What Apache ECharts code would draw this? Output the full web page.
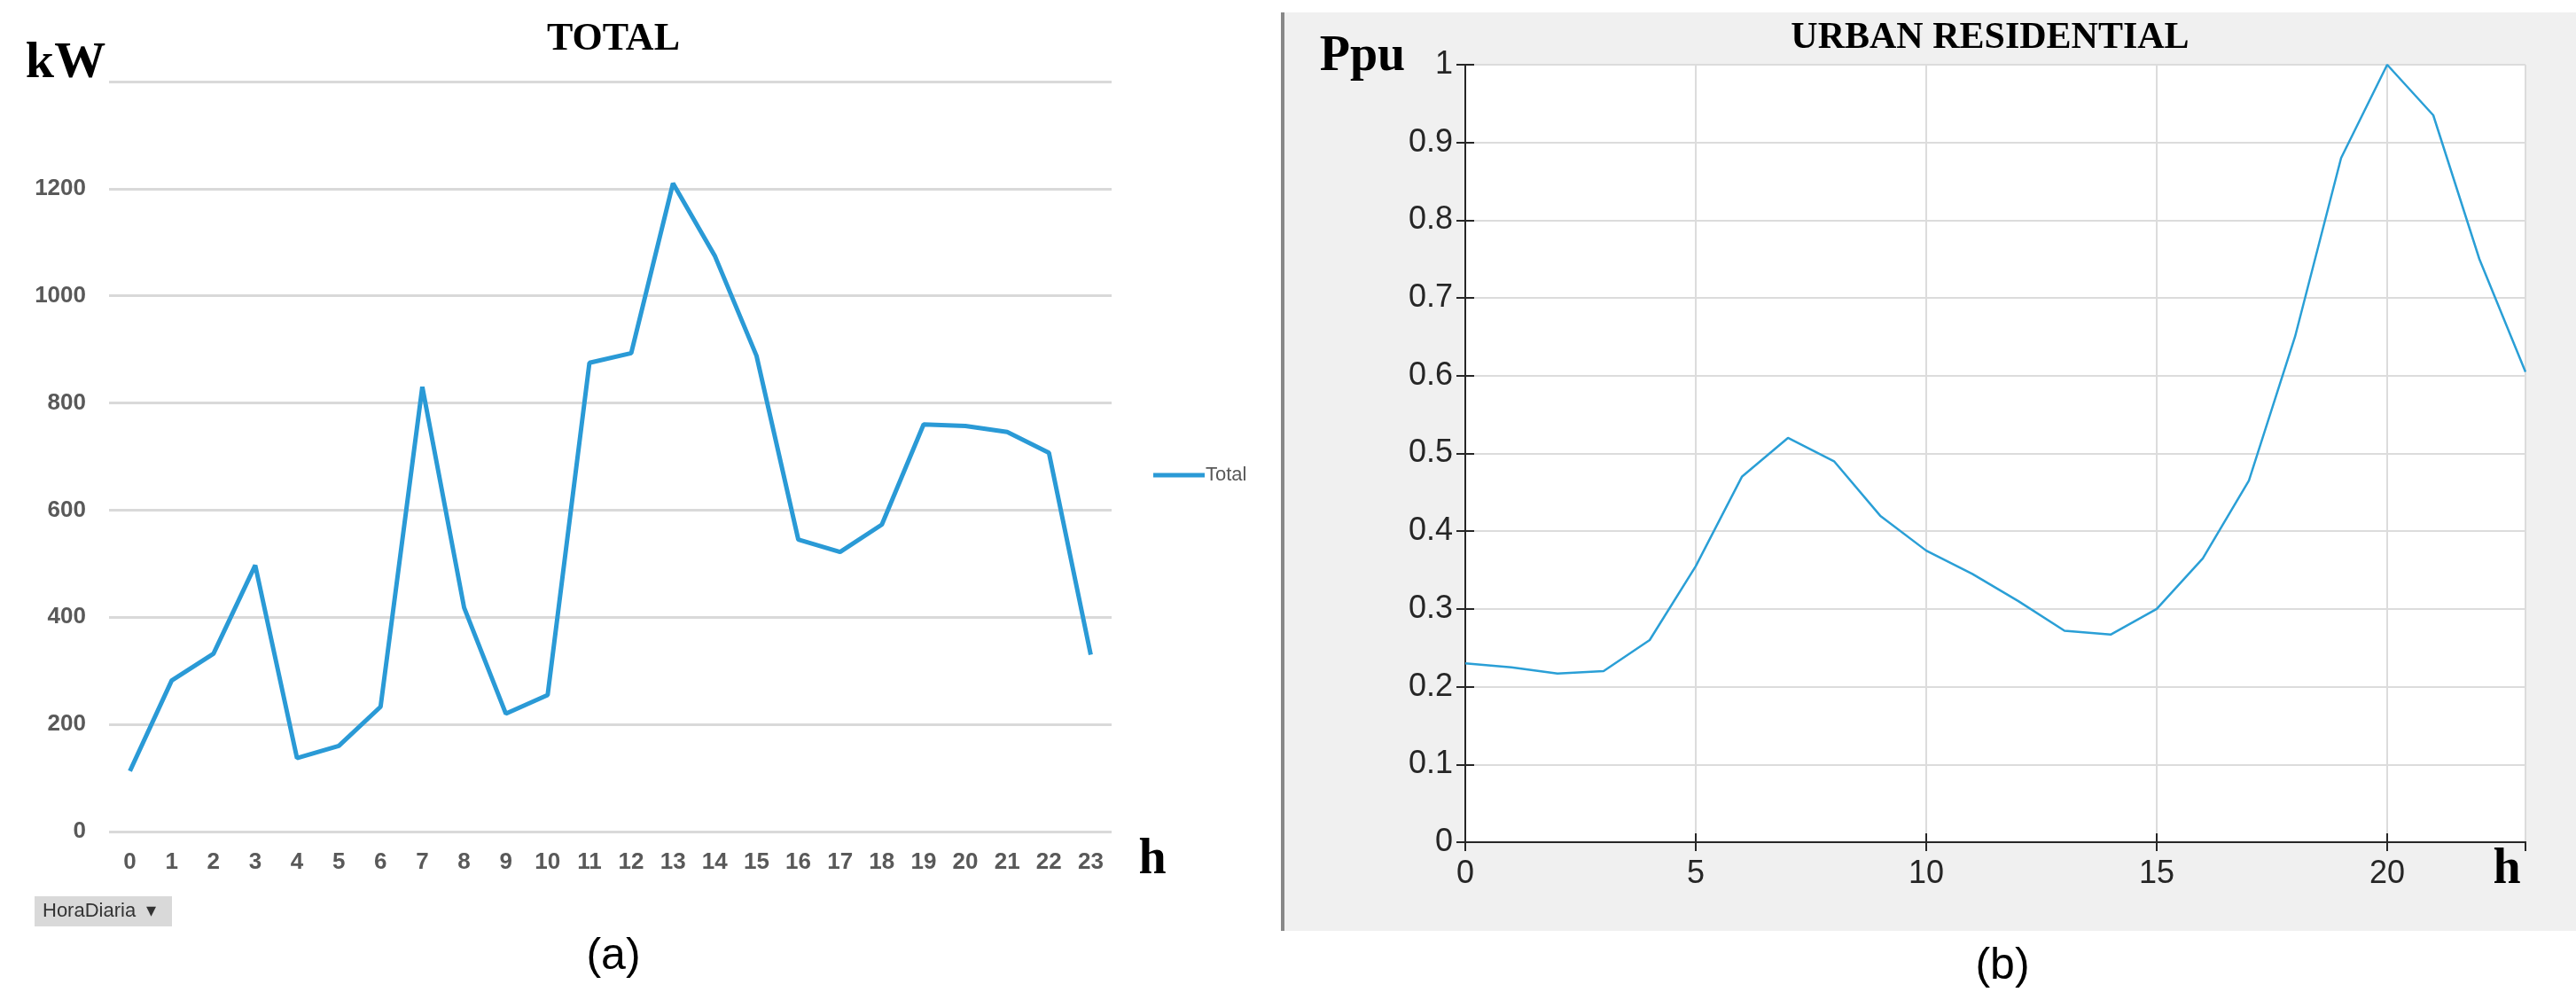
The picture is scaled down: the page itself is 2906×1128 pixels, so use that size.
<!DOCTYPE html>
<html>
<head>
<meta charset="utf-8">
<script src="https://cdn.jsdelivr.net/npm/echarts@6/dist/echarts.min.js"></script>
<style>
  html, body { margin: 0; padding: 0; background: #fff; }
  #chart { width: 2906px; height: 1128px; }
</style>
</head>
<body>
<div id="chart"></div>
<script>
// Data
var hours = ['0','1','2','3','4','5','6','7','8','9','10','11','12','13','14','15','16','17','18','19','20','21','22','23'];
var totalKw = [113, 282, 332, 497, 137, 160, 233, 830, 418, 220, 255, 875, 893, 1210, 1075, 888, 545, 522, 573, 760, 757, 746, 707, 330];
var urbanHours = [0,1,2,3,4,5,6,7,8,9,10,11,12,13,14,15,16,17,18,19,20,21,22,23];
var urbanPpu = [0.23, 0.225, 0.217, 0.22, 0.26, 0.355, 0.47, 0.52, 0.49, 0.42, 0.375, 0.345, 0.31, 0.272, 0.267, 0.3, 0.365, 0.465, 0.65, 0.88, 1.0, 0.935, 0.75, 0.605];

var chart = echarts.init(document.getElementById('chart'));

var serif = '"Liberation Serif", "DejaVu Serif", serif';
var sans = '"Liberation Sans", Arial, sans-serif';

chart.setOption({
    animation: false,
    backgroundColor: '#fff',
    graphic: [
        // gray panel behind right chart
        { type: 'rect', shape: { x: 1447, y: 14, width: 1459, height: 1036 }, style: { fill: '#f0f0f0' }, z: -10 },
        { type: 'rect', shape: { x: 1653, y: 73, width: 1196, height: 877 }, style: { fill: '#fff' }, z: -9 },
        { type: 'line', shape: { x1: 1447, y1: 14, x2: 1447, y2: 1050 }, style: { stroke: '#888', lineWidth: 4 } },
        // titles and labels
        { type: 'text', x: 692, y: 45, style: { text: 'TOTAL', font: 'bold 44px ' + serif, fill: '#000', align: 'center', verticalAlign: 'middle' } },
        { type: 'text', x: 74, y: 72, style: { text: 'kW', font: 'bold 58px ' + serif, fill: '#000', align: 'center', verticalAlign: 'middle' } },
        { type: 'text', x: 1300, y: 971, style: { text: 'h', font: 'bold 56px ' + serif, fill: '#000', align: 'center', verticalAlign: 'middle' } },
        { type: 'rect', shape: { x: 39, y: 1011, width: 155, height: 34 }, style: { fill: '#d9d9d9' } },
        { type: 'text', x: 48, y: 1028, style: { text: 'HoraDiaria  \u25BE', font: '22px ' + sans, fill: '#333', verticalAlign: 'middle' } },
        { type: 'text', x: 692, y: 1079, style: { text: '(a)', font: '50px ' + sans, fill: '#000', align: 'center', verticalAlign: 'middle' } },
        { type: 'text', x: 2245, y: 43, style: { text: 'URBAN RESIDENTIAL', font: 'bold 42px ' + serif, fill: '#000', align: 'center', verticalAlign: 'middle' } },
        { type: 'text', x: 1537, y: 65, style: { text: 'Ppu', font: 'bold 56px ' + serif, fill: '#000', align: 'center', verticalAlign: 'middle' } },
        { type: 'text', x: 2828, y: 982, style: { text: 'h', font: 'bold 56px ' + serif, fill: '#000', align: 'center', verticalAlign: 'middle' } },
        { type: 'text', x: 2259, y: 1090, style: { text: '(b)', font: '50px ' + sans, fill: '#000', align: 'center', verticalAlign: 'middle' } }
    ],
    legend: {
        data: ['Total'],
        left: 1296,
        top: 520,
        itemWidth: 58,
        itemHeight: 5,
        itemGap: 4,
        icon: 'rect',
        textStyle: { fontFamily: sans, fontSize: 22, color: '#595959', padding: [0, 0, 0, -4] }
    },
    grid: [
        { left: 123, top: 92, width: 1131, height: 846 },
        { left: 1653, top: 73, width: 1196, height: 877 },
        { left: 1653, top: 73, width: 1196, height: 877 }
    ],
    xAxis: [
        {
            gridIndex: 0, type: 'category', data: hours, boundaryGap: true,
            axisLine: { show: false }, axisTick: { show: false },
            axisLabel: { color: '#595959', fontFamily: sans, fontWeight: 'bold', fontSize: 26, margin: 22 }
        },
        {
            gridIndex: 1, type: 'value', min: 0, max: 23, interval: 5,
            axisLine: { lineStyle: { color: '#262626', width: 2 } },
            axisTick: { inside: true, length: 10, lineStyle: { color: '#262626', width: 2 } },
            axisLabel: { color: '#262626', fontFamily: sans, fontSize: 36, margin: 18, showMaxLabel: false },
            splitLine: { show: true, lineStyle: { color: '#dcdcdc', width: 2 } }
        },
        {
            gridIndex: 2, type: 'value', min: 0, max: 23, interval: 5, position: 'top',
            axisLine: { lineStyle: { color: '#262626', width: 2 } },
            axisTick: { inside: true, length: 10, lineStyle: { color: '#262626', width: 2 } },
            axisLabel: { show: false }, splitLine: { show: false }
        }
    ],
    yAxis: [
        {
            gridIndex: 0, type: 'value', min: 0, max: 1400, interval: 200,
            axisLine: { show: false }, axisTick: { show: false },
            axisLabel: { color: '#595959', fontFamily: sans, fontWeight: 'bold', fontSize: 26, margin: 26, formatter: function (v) { return v === 1400 ? '' : v; } },
            splitLine: { lineStyle: { color: '#d9d9d9', width: 3 } }
        },
        {
            gridIndex: 1, type: 'value', min: 0, max: 1, interval: 0.1,
            axisLine: { lineStyle: { color: '#262626', width: 2 } },
            axisTick: { inside: true, length: 10, lineStyle: { color: '#262626', width: 2 } },
            axisLabel: { color: '#262626', fontFamily: sans, fontSize: 36, margin: 14 },
            splitLine: { show: true, lineStyle: { color: '#dcdcdc', width: 2 } }
        },
        {
            gridIndex: 2, type: 'value', min: 0, max: 1, interval: 0.1, position: 'right',
            axisLine: { lineStyle: { color: '#262626', width: 2 } },
            axisTick: { inside: true, length: 10, lineStyle: { color: '#262626', width: 2 } },
            axisLabel: { show: false }, splitLine: { show: false }
        }
    ],
    series: [
        {
            name: 'Total', type: 'line', xAxisIndex: 0, yAxisIndex: 0,
            data: totalKw, symbol: 'none',
            lineStyle: { color: '#2a9ad6', width: 5 }, itemStyle: { color: '#2a9ad6' }
        },
        {
            name: 'Urban', type: 'line', xAxisIndex: 1, yAxisIndex: 1,
            data: urbanHours.map(function (h, i) { return [h, urbanPpu[i]]; }),
            symbol: 'none',
            lineStyle: { color: '#2a9fd6', width: 2.5 }
        }
    ]
});
</script>
</body>
</html>
